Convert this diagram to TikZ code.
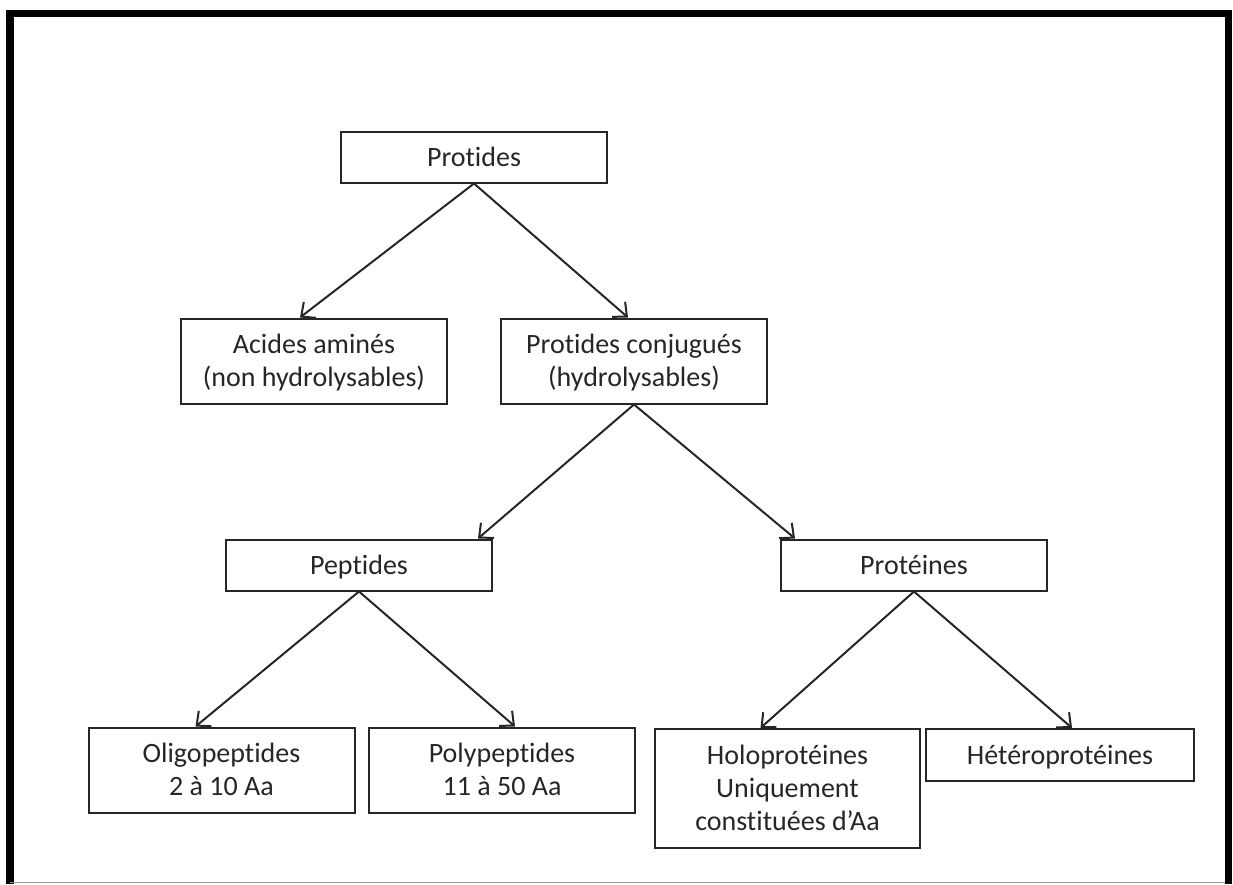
\documentclass[tikz,border=0pt]{standalone}
\usepackage{fontspec}
\setmainfont[Ligatures=NoCommon]{Carlito}
\usetikzlibrary{arrows.meta,positioning}

\newcommand{\hautligne}{\rule{0pt}{26pt}}
\newcommand{\basligne}{\rule[-8pt]{0pt}{8pt}}

\tikzset{
  boite/.style={draw=black!85, line width=2pt, minimum width=266pt, minimum height=51pt,
    align=center, inner sep=0pt, text=black!85, font=\fontsize{28}{33}\selectfont,
    execute at begin node=\hautligne, execute at end node=\basligne},
  multi/.style={boite, minimum height=85pt},
  fleche/.style={draw=black!85, line width=2pt, -{Straight Barb[length=11pt,width=20pt,line width=2pt]}}
}

\begin{document}
\begin{tikzpicture}[x=1pt,y=-1pt]
			\useasboundingbox (0,0) rectangle (1233,884);
			% cadre
			\draw[line width=7.5pt] (10,884) -- (10,13.5) -- (1228.5,13.5) -- (1228.5,884);
			\draw[black!40, line width=1pt] (10,882) -- (1225,882);
			
			% niveau 1
			\node[boite] (protides) at (474,157) {Protides};
			
			% niveau 2
			\node[multi] (acides) at (314,361) {\hautligne Acides aminés\\(non hydrolysables)};
			\node[multi] (conjugues) at (634,361) {\hautligne Protides conjugués\\(hydrolysables)};
			
			% niveau 3
			\node[boite] (peptides) at (359,565) {Peptides};
			\node[boite] (proteines) at (914,565) {Protéines};
			
			% niveau 4
			\node[multi] (oligo) at (221.5,770) {\hautligne Oligopeptides\\2 à 10 Aa};
			\node[multi] (poly) at (502,770) {\hautligne Polypeptides\\11 à 50 Aa};
			\node[multi, minimum width=265pt, minimum height=119pt] (holo) at (787.5,788.5) {\hautligne Holoprotéines\\Uniquement\\constituées d’Aa};
			\node[boite, minimum width=268pt, minimum height=52pt] (hetero) at (1060,755) {Hétéroprotéines};
			
			% fleches
			\draw[fleche] (protides.south) -- ([xshift=-14pt]acides.north);
			\draw[fleche] (protides.south) -- ([xshift=-6pt]conjugues.north);
			\draw[fleche] (conjugues.south) -- ([xshift=119pt]peptides.north);
			\draw[fleche] (conjugues.south) -- ([xshift=-119pt]proteines.north);
			\draw[fleche] (peptides.south) -- ([xshift=-26pt]oligo.north);
			\draw[fleche] (peptides.south) -- ([xshift=13pt]poly.north);
			\draw[fleche] (proteines.south) -- ([xshift=-27pt]holo.north);
			\draw[fleche] (proteines.south) -- ([xshift=12pt]hetero.north);
		\end{tikzpicture}
\end{document}
